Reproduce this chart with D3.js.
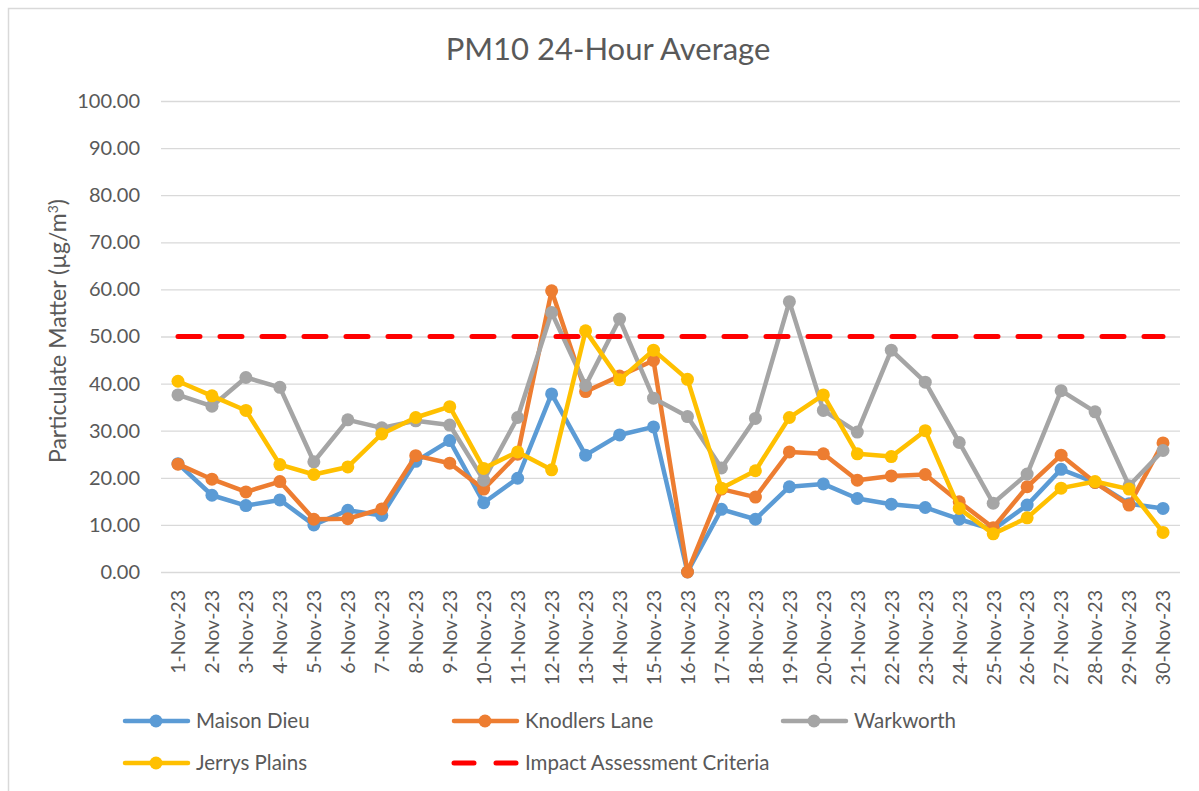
<!DOCTYPE html>
<html>
<head>
<meta charset="utf-8">
<script src="https://cdn.jsdelivr.net/npm/d3@7"></script>
<style>
  body { margin: 0; background: #fff; }
  svg { display: block; font-family: Lato, "Open Sans", sans-serif; }
</style>
</head>
<body>
<div id="chart"></div>
<script>
// PM10 24-hour average, November 2023
const width = 1199;
const height = 791;
const plot = { left: 161, right: 1180, top: 101, bottom: 572 };

const dates = [
    '1-Nov-23', '2-Nov-23', '3-Nov-23', '4-Nov-23', '5-Nov-23', '6-Nov-23', '7-Nov-23', '8-Nov-23',
    '9-Nov-23', '10-Nov-23', '11-Nov-23', '12-Nov-23', '13-Nov-23', '14-Nov-23', '15-Nov-23', '16-Nov-23',
    '17-Nov-23', '18-Nov-23', '19-Nov-23', '20-Nov-23', '21-Nov-23', '22-Nov-23', '23-Nov-23', '24-Nov-23',
    '25-Nov-23', '26-Nov-23', '27-Nov-23', '28-Nov-23', '29-Nov-23', '30-Nov-23'
];
const maisonDieu = [23.0, 16.3, 14.1, 15.3, 10.0, 13.1, 12.0, 23.5, 27.9, 14.7, 19.9, 37.8, 24.8, 29.1, 30.8,
    0.0, 13.3, 11.2, 18.1, 18.7, 15.6, 14.4, 13.7, 11.2, 9.0, 14.2, 21.8, 19.0, 14.5, 13.5];
const knodlersLane = [22.9, 19.7, 17.0, 19.2, 11.2, 11.3, 13.4, 24.7, 23.1, 17.6, 25.0, 59.7, 38.3, 41.6, 44.9,
    0.0, 17.6, 15.9, 25.5, 25.1, 19.5, 20.4, 20.7, 14.9, 9.4, 18.1, 24.8, 19.0, 14.2, 27.4];
const warkworth = [37.6, 35.2, 41.3, 39.2, 23.4, 32.3, 30.6, 32.1, 31.2, 19.5, 32.8, 55.1, 39.6, 53.7, 36.9,
    33.0, 22.1, 32.6, 57.4, 34.3, 29.7, 47.1, 40.3, 27.5, 14.6, 20.8, 38.5, 34.0, 18.3, 25.8];
const jerrysPlains = [40.5, 37.4, 34.3, 22.8, 20.7, 22.3, 29.3, 32.8, 35.1, 22.0, 25.5, 21.7, 51.2, 40.8, 47.1,
    40.9, 17.8, 21.5, 32.8, 37.6, 25.1, 24.5, 30.0, 13.5, 8.1, 11.5, 17.8, 19.2, 17.6, 8.4];
const impactCriteria = 50;
const yTicks = [0, 10, 20, 30, 40, 50, 60, 70, 80, 90, 100];

const series = [
    { name: 'Maison Dieu', values: maisonDieu, color: '#5B9BD5' },
    { name: 'Knodlers Lane', values: knodlersLane, color: '#ED7D31' },
    { name: 'Warkworth', values: warkworth, color: '#A5A5A5' },
    { name: 'Jerrys Plains', values: jerrysPlains, color: '#FFC000' }
];
const textColor = '#595959';

const svg = d3.select('#chart')
    .append('svg')
    .attr('width', width)
    .attr('height', height);

// outer chart border (runs off the right and bottom of the picture)
svg.append('rect')
    .attr('x', 8.5).attr('y', 8.5)
    .attr('width', 1220).attr('height', 820)
    .attr('fill', 'none')
    .attr('stroke', '#d9d9d9')
    .attr('stroke-width', 1.5);

const x = d3.scalePoint().domain(dates).range([plot.left, plot.right]).padding(0.5);
const y = d3.scaleLinear().domain([0, 100]).range([plot.bottom, plot.top]);

// title
svg.append('text')
    .attr('x', 608).attr('y', 60)
    .attr('text-anchor', 'middle')
    .attr('fill', textColor)
    .style('font-size', '31px')
    .text('PM10 24-Hour Average');

// gridlines + y labels
const yAxis = d3.axisLeft(y)
    .tickValues(yTicks)
    .tickSize(-(plot.right - plot.left))
    .tickPadding(21)
    .tickFormat(d3.format('.2f'));

const gy = svg.append('g')
    .attr('transform', `translate(${plot.left},0)`)
    .call(yAxis);
gy.select('.domain').remove();
gy.selectAll('.tick line').attr('stroke', '#d9d9d9').attr('stroke-width', 1.3);
gy.selectAll('.tick text')
    .attr('fill', textColor)
    .style('font-size', '20px')
    .style('font-family', 'Lato, sans-serif');

// y axis title
const yTitle = svg.append('text')
    .attr('transform', 'translate(66,331) rotate(-90)')
    .attr('text-anchor', 'middle')
    .attr('fill', textColor)
    .style('font-size', '23px');
yTitle.append('tspan').text('Particulate Matter (µg/m');
yTitle.append('tspan').attr('dy', -8).style('font-size', '14px').text('3');
yTitle.append('tspan').attr('dy', 8).text(')');

// x labels, rotated
const xAxis = d3.axisBottom(x).tickSize(0).tickPadding(0);
const gx = svg.append('g')
    .attr('transform', `translate(0,${plot.bottom})`)
    .call(xAxis);
gx.select('.domain').remove();
gx.selectAll('.tick text')
    .attr('transform', 'translate(0,18) rotate(-90)')
    .attr('text-anchor', 'end')
    .attr('x', 0).attr('y', 0)
    .attr('dy', '0.35em')
    .attr('fill', textColor)
    .style('font-size', '19.5px')
    .style('font-family', 'Lato, sans-serif');

// series lines
const line = d3.line()
    .x((d, i) => x(dates[i]))
    .y(d => y(d));

series.forEach(s => {
    const g = svg.append('g');
    g.append('path')
        .datum(s.values)
        .attr('d', line)
        .attr('fill', 'none')
        .attr('stroke', s.color)
        .attr('stroke-width', 4.5)
        .attr('stroke-linejoin', 'round')
        .attr('stroke-linecap', 'round');
    g.selectAll('circle')
        .data(s.values)
        .enter()
        .append('circle')
        .attr('cx', (d, i) => x(dates[i]))
        .attr('cy', d => y(d))
        .attr('r', 6.5)
        .attr('fill', s.color);
});

// impact assessment criteria
svg.append('line')
    .attr('x1', x(dates[0])).attr('x2', x(dates[dates.length - 1]))
    .attr('y1', y(impactCriteria)).attr('y2', y(impactCriteria))
    .attr('stroke', '#FF0000')
    .attr('stroke-width', 5)
    .attr('stroke-dasharray', '22 20')
    .attr('stroke-linecap', 'round');

// legend
const legendItems = [
    { name: 'Maison Dieu', color: '#5B9BD5', x: 123, y: 721 },
    { name: 'Knodlers Lane', color: '#ED7D31', x: 452, y: 721 },
    { name: 'Warkworth', color: '#A5A5A5', x: 781, y: 721 },
    { name: 'Jerrys Plains', color: '#FFC000', x: 123, y: 763 },
    { name: 'Impact Assessment Criteria', color: '#FF0000', x: 452, y: 763, dashed: true }
];

const legend = svg.append('g');
legendItems.forEach(item => {
    const g = legend.append('g').attr('transform', `translate(${item.x},${item.y})`);
    if (item.dashed) {
        g.append('line')
            .attr('x1', 2).attr('x2', 64)
            .attr('stroke', item.color)
            .attr('stroke-width', 5)
            .attr('stroke-dasharray', '20 22')
            .attr('stroke-linecap', 'round');
    } else {
        g.append('line')
            .attr('x1', 2).attr('x2', 65)
            .attr('stroke', item.color)
            .attr('stroke-width', 4.5)
            .attr('stroke-linecap', 'round');
        g.append('circle')
            .attr('cx', 33).attr('r', 6.5)
            .attr('fill', item.color);
    }
    g.append('text')
        .attr('x', 73)
        .attr('dy', '0.35em')
        .attr('fill', textColor)
        .style('font-size', '20.5px')
        .text(item.name);
});
</script>
</body>
</html>
